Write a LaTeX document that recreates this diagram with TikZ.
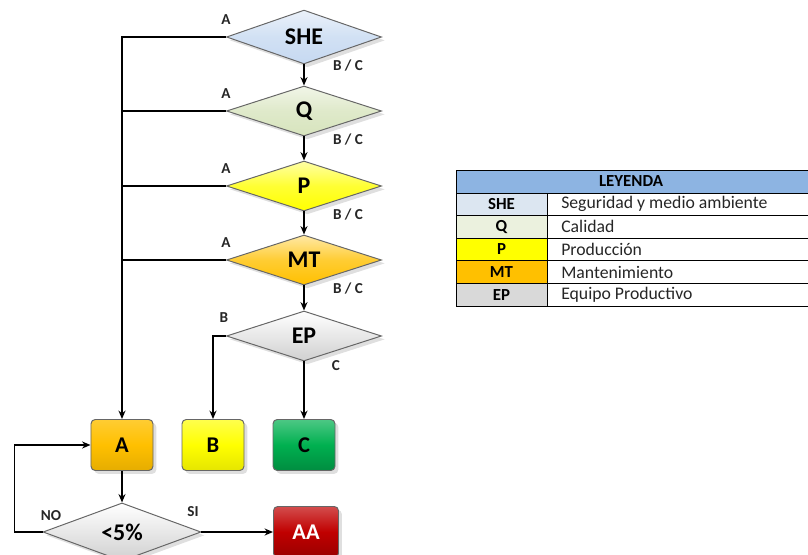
\documentclass[tikz,border=0pt]{standalone}
\usepackage{fontspec}
\setmainfont{Carlito}
\usetikzlibrary{shapes.geometric,arrows.meta,shadows}

\definecolor{sheblue}{HTML}{C6D9F1}
\definecolor{qgreen}{HTML}{D7E4BD}
\definecolor{pyellow}{HTML}{FFFF00}
\definecolor{mtorange}{HTML}{FFC000}
\definecolor{epgray}{HTML}{D0D0D0}
\definecolor{cgreen}{HTML}{00B050}
\definecolor{aared}{HTML}{C00000}
\definecolor{legblue}{HTML}{8DB4E2}
\definecolor{legshe}{HTML}{DCE6F1}
\definecolor{legq}{HTML}{EBF1DE}
\definecolor{leggray}{HTML}{D9D9D9}

\tikzset{
  decision/.style={diamond,draw=black!60,line width=0.7pt,inner sep=0pt,
    minimum width=38.75mm,minimum height=12.5mm,
    font=\fontsize{17}{20}\selectfont\bfseries,
    drop shadow={opacity=0.25}},
  result/.style={rectangle,rounded corners=3pt,draw=black!60,line width=0.7pt,
    minimum width=15.5mm,minimum height=12.75mm,
    font=\fontsize{16}{19}\selectfont\bfseries,
    drop shadow={opacity=0.25}},
  lbl/.style={font=\fontsize{10.8}{12}\selectfont\bfseries,text=black!85,inner sep=0pt},
  arr/.style={-{Stealth[length=6pt,width=5pt]},line width=1.3pt},
  wire/.style={line width=1.3pt},
  legcode/.style={font=\fontsize{12}{14}\selectfont\bfseries,inner sep=0pt},
  legtext/.style={font=\fontsize{12.6}{14}\selectfont,text=black!85,inner sep=0pt,anchor=west}
}

\begin{document}
\begin{tikzpicture}[x=0.25mm,y=-0.25mm]
\clip (0,0) rectangle (808,555);

% decision chain
\foreach \n/\t/\y/\col in {she/SHE/37/sheblue,q/Q/111/qgreen,p/P/186/pyellow,mt/MT/260/mtorange}{
  \node[decision,top color=\col!35!white,bottom color=\col,middle color=\col!80!white] (\n) at (304,\y) {\t};
  \node[lbl] (\n-a) at ([shift={(-78,-17)}]\n) {A};
  \node[lbl] (\n-bc) at ([shift={(44,29)}]\n) {B / C};
}
\node[decision,top color=white,bottom color=epgray,middle color=epgray!50!white] (ep) at (304,336) {EP};
\node[lbl] (ep-b) at ([shift={(-80,-18)}]ep) {B};
\node[lbl] (ep-c) at ([shift={(32,30)}]ep) {C};

% outcomes
\node[result,top color=mtorange!80!white,bottom color=mtorange!90!black,middle color=mtorange] (boxA) at (122,445) {A};
\node[result,top color=pyellow!70!white,bottom color=pyellow!90!black,middle color=pyellow] (boxB) at (213,445) {B};
\node[result,top color=cgreen!70!white,bottom color=cgreen!80!black,middle color=cgreen] (boxC) at (304,445) {C};

\node[decision,minimum width=39.5mm,top color=white,bottom color=epgray,middle color=epgray!50!white] (pct) at (122,532) {<5\%};
\node[lbl] (pct-no) at (51,516) {NO};
\node[lbl] (pct-si) at (193,512) {SI};
\node[result,text=white,minimum width=16.25mm,top color=aared!70!white,bottom color=aared!80!black,middle color=aared] (aa) at (306,532) {AA};

% connectors
\draw[arr] (she) -- (q);
\draw[arr] (q) -- (p);
\draw[arr] (p) -- (mt);
\draw[arr] (mt) -- (ep);
\draw[arr] (she.west) -| (boxA);
\draw[wire] (q.west) -- (q.west -| boxA);
\draw[wire] (p.west) -- (p.west -| boxA);
\draw[wire] (mt.west) -- (mt.west -| boxA);
\draw[arr] (ep.west) -| (boxB);
\draw[arr] (ep) -- (boxC);
\draw[arr] (boxA) -- (pct);
\draw[arr] (pct.west) -- ++(-28,0) |- (boxA.west);
\draw[arr] (pct.east) -- (aa.west);

% legend
\draw[fill=legblue,line width=0.7pt] (456,170) rectangle (808,193);
\node[legcode] (leyenda) at (631,181.5) {LEYENDA};
\foreach \k/\d/\col [count=\i from 0] in {SHE/Seguridad y medio ambiente/legshe,Q/Calidad/legq,P/Producción/pyellow,MT/Mantenimiento/mtorange,EP/Equipo Productivo/leggray}{
  \draw[fill=\col,line width=0.7pt] (456,{193+22.6*\i}) rectangle (547,{215.6+22.6*\i});
  \draw[line width=0.7pt] (547,{193+22.6*\i}) rectangle (808,{215.6+22.6*\i});
  \node[legcode] (code\i) at (501.5,{204.3+22.6*\i}) {\k};
  \node[legtext] (text\i) at (561,{204.3+22.6*\i}) {\d};
}
\end{tikzpicture}
\end{document}
